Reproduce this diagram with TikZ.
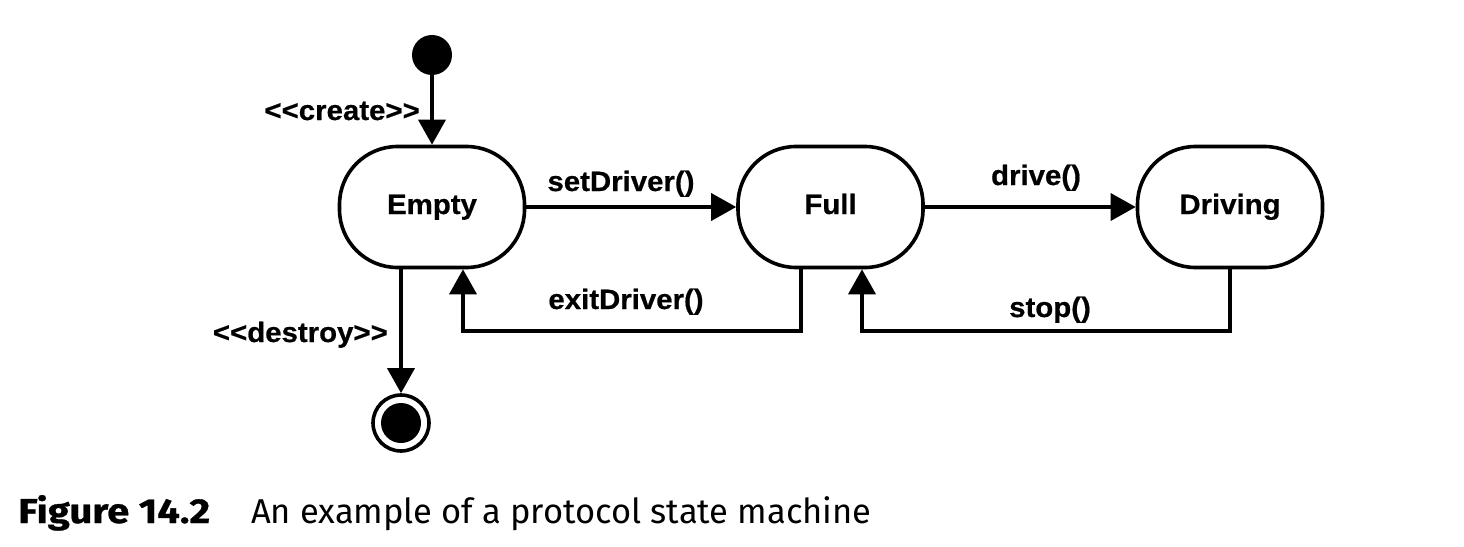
\documentclass[tikz,border=0pt]{standalone}
\usepackage{fontspec}
\setmainfont{Liberation Sans}
\newfontfamily\diagfont[FakeStretch=1.05, FakeBold=0.6]{Liberation Sans}
\newfontfamily\capfont{Fira Sans}
\newfontfamily\capboldfont[FakeStretch=1.16, FakeBold=0.8]{Fira Sans}
\usetikzlibrary{arrows.meta,calc}
\tikzset{
  state/.style={draw, line width=3.6pt, rounded corners=58pt, minimum width=185pt, minimum height=121pt, inner sep=0pt, text height=20pt, text depth=6pt, font=\diagfont\bfseries\fontsize{28pt}{32pt}\selectfont},
  lbl/.style={inner sep=0pt, text height=20pt, text depth=6pt, font=\diagfont\bfseries\fontsize{28pt}{32pt}\selectfont},
  conn/.style={line width=3.6pt, -{Triangle[width=27pt,length=25pt]}},
  captionstyle/.style={inner sep=0pt, anchor=base west}
}
\begin{document}
\begin{tikzpicture}[x=1pt,y=-1pt]
\useasboundingbox[fill=white] (0,0) rectangle (1464,546);
% states
\node[circle, fill=black, minimum size=40pt, inner sep=0pt] (init) at (432,55) {};
\node[state] (Empty) at (432,207) {Empty};
\node[state] (Full) at (830.5,207) {Full};
\node[state] (Driving) at (1230,207) {Driving};
\node[circle, draw, line width=3.6pt, minimum size=56pt, inner sep=0pt] (final) at (401,423) {};
\node[circle, fill=black, minimum size=40pt, inner sep=0pt] (finalin) at (final) {};
% helper coordinates
\coordinate (e1) at (801,331);
\coordinate (e2) at (463,331);
\coordinate (s1) at (1230,331);
\coordinate (s2) at (862,331);
% connectors
\draw[conn] (init) -- (Empty.north);
\draw[conn] (Empty.east) -- (Full.west);
\draw[conn] (Full.east) -- (Driving.west);
\draw[conn] (final |- Empty.south) -- (final.north);
\draw[conn, line join=miter] (Full.south -| e1) -- (e1) -- (e2) -- (Empty.south -| e2);
\draw[conn, line join=miter] (Driving.south) -- (s1) -- (s2) -- (Full.south -| s2);
% labels
\node[lbl, anchor=east] (lcreate) at (420,113) {<<create>>};
\node[lbl, anchor=east] (ldestroy) at (388,335) {<<destroy>>};
\node[lbl] (lset) at (621,184) {setDriver()};
\node[lbl] (lexit) at (626,302) {exitDriver()};
\node[lbl] (ldrive) at (1036,178) {drive()};
\node[lbl] (lstop) at (1050,310) {stop()};
% caption
\node[captionstyle, font=\capboldfont\bfseries\fontsize{34.5pt}{38pt}\selectfont] (capA) at (18,523) {Figure 14.2};
\node[captionstyle, font=\capfont\fontsize{34.5pt}{38pt}\selectfont] (capB) at (251,523) {An example of a protocol state machine};
\end{tikzpicture}
\end{document}
